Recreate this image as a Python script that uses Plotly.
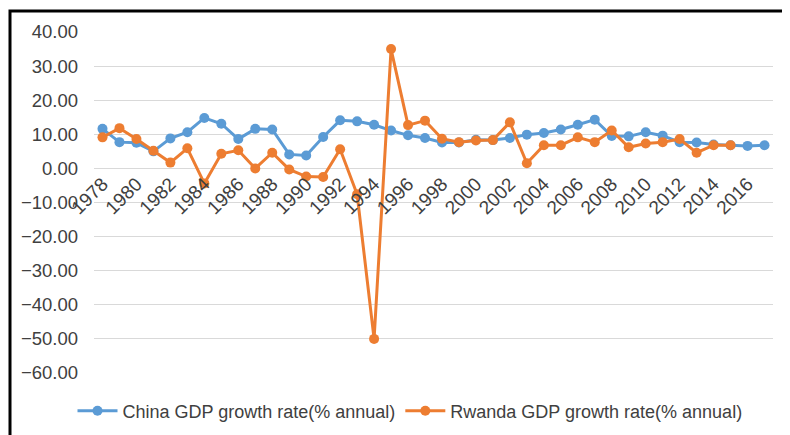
import plotly.graph_objs as go

# Datos
years = list(range(1978, 2018))

china_growth = [11.6, 7.7, 7.5, 5.0, 8.8, 10.6, 14.8, 13.1, 8.6, 11.6,
                11.4, 4.1, 3.8, 9.2, 14.1, 13.8, 12.8, 11.1, 9.7, 8.9,
                7.6, 7.6, 8.4, 8.3, 8.9, 9.9, 10.4, 11.4, 12.8, 14.3,
                9.5, 9.4, 10.6, 9.6, 7.7, 7.6, 7.0, 6.8, 6.6, 6.8]

rwanda_growth = [9.1, 11.8, 8.6, 5.2, 1.7, 5.9, -4.4, 4.3, 5.3, 0.0,
                 4.6, -0.3, -2.4, -2.5, 5.6, -7.6, -50.0, 35.0, 12.7, 14.0,
                 8.7, 7.7, 8.2, 8.3, 13.5, 1.5, 6.8, 6.8, 9.1, 7.7,
                 11.1, 6.2, 7.3, 7.7, 8.6, 4.6, 6.8, 6.8, None, None]

y_ticks = list(range(-60, 41, 10))

# La pagina tiene 8px de margen en body: se compensa aqui
off = 8
W, H = 790 - off, 435 - off
left, top = 94 - off, 32 - off
plot_w = 773 - 94
plot_h = 373 - 32
right = W - left - plot_w
bottom = H - top - plot_h

fig = go.Figure()

fig.add_trace(go.Scatter(
    x=years, y=china_growth,
    mode='lines+markers',
    line=dict(color='#5B9BD5', width=3),
    marker=dict(color='#5B9BD5', size=10),
    name='China GDP growth rate(% annual)'
))

fig.add_trace(go.Scatter(
    x=years, y=rwanda_growth,
    mode='lines+markers',
    line=dict(color='#ED7D31', width=3),
    marker=dict(color='#ED7D31', size=10),
    connectgaps=False,
    name='Rwanda GDP growth rate(% annual)'
))

fig.update_layout(
    width=W, height=H,
    margin=dict(l=left, r=right, t=top, b=bottom, autoexpand=False),
    plot_bgcolor='white',
    paper_bgcolor='white',
    font=dict(family='Liberation Sans, Arial, sans-serif', size=18, color='#404040'),
    showlegend=True,
    legend=dict(
        orientation='h',
        x=(410 - 94) / plot_w, xanchor='center',
        y=(373 - 411) / plot_h, yanchor='middle',
        font=dict(size=18, color='#404040'),
        itemwidth=40,
        tracegroupgap=0
    )
)

fig.update_yaxes(
    range=[-60, 40],
    tickvals=y_ticks,
    tickformat='.2f',
    showgrid=True, gridcolor='#d9d9d9', gridwidth=1,
    zeroline=False,
    showline=False,
    ticks='',
    ticklabelstandoff=15,
    tickfont=dict(size=18.5, color='#404040')
)

fig.update_xaxes(
    range=[1977.5, 2017.5],
    tick0=1978, dtick=2,
    tickangle=-45,
    anchor='free', position=0.6,
    showgrid=False,
    zeroline=False,
    showline=False,
    ticks='',
    tickfont=dict(size=19, color='#404040')
)

# Marco negro (borde superior e izquierdo)
fig.add_shape(
    type='rect',
    xref='paper', yref='paper',
    x0=(10 - 94) / plot_w, x1=1.5,
    y0=-0.5, y1=1 + (32 - 11) / plot_h,
    line=dict(color='black', width=3),
    layer='above'
)

fig.write_html("out.html")
